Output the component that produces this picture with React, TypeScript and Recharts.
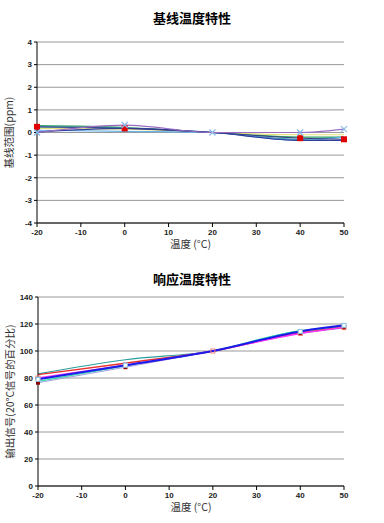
import { CartesianGrid, Line, LineChart, XAxis, YAxis } from "recharts";

const temps = [-20, 0, 20, 40, 50];
const xTicks = [-20, -10, 0, 10, 20, 30, 40, 50];

// 基线温度特性 (ppm)
const baseTicks = [-4, -3, -2, -1, 0, 1, 2, 3, 4];
const basePurple = [0, 0.33, 0, 0, 0.15];
const baseRed = [0.25, 0.18, 0, -0.25, -0.3];
const baseGreen = [0.3, 0.22, 0, -0.2, -0.2];
const baseYellow = [0.18, 0.15, 0, -0.1, -0.1];
const baseTeal = [0.25, 0.2, 0, -0.3, -0.2];
const baseLightBlue = [0.1, 0.05, 0, -0.35, -0.2];
const baseBlue = [0.02, 0.18, 0, -0.35, -0.35];

// 响应温度特性 (%)
const respTicks = [0, 20, 40, 60, 80, 100, 120, 140];
const respTeal = [83, 93.5, 100, 115, 118];
const respRed = [82.5, 91, 100, 113.5, 117.5];
const respMagenta = [80, 89.5, 100, 113, 117.5];
const respCyan = [77.5, 89, 100, 115, 117];
const respBlue = [79, 89.5, 100, 114.5, 119];
const respDark = [76.5, 88, 100, 113, 117];

const baseSeries = [
  { key: "yellow", values: baseYellow, color: "#e6e07a", width: 1.2, dot: "none" },
  { key: "green", values: baseGreen, color: "#2ea060", width: 1.2, dot: "none" },
  { key: "teal", values: baseTeal, color: "#2a9a9a", width: 1.2, dot: "none" },
  { key: "lightblue", values: baseLightBlue, color: "#6ab4e8", width: 1.2, dot: "none" },
  { key: "blue", values: baseBlue, color: "#2f3f9e", width: 1.2, dot: "none" },
  { key: "red", values: baseRed, color: "#3a3a8a", width: 1, dot: "square" },
  { key: "purple", values: basePurple, color: "#9a6cc4", width: 1.2, dot: "x" },
];

const respSeries = [
  { key: "teal", values: respTeal, color: "#2a9d9d", width: 1.2, dot: "none" },
  { key: "cyan", values: respCyan, color: "#33e0b0", width: 1.2, dot: "none" },
  { key: "dark", values: respDark, color: "#a0a0e0", width: 1, dot: "darkred" },
  { key: "red", values: respRed, color: "#e83030", width: 1.5, dot: "none" },
  { key: "magenta", values: respMagenta, color: "#ff33ff", width: 1.5, dot: "pink" },
  { key: "blue", values: respBlue, color: "#1c1ce8", width: 2, dot: "white" },
];

function buildRows(series: { key: string; values: number[] }[]) {
  return temps.map((t, i) => {
    const row: Record<string, number> = { t };
    series.forEach((s) => {
      row[s.key] = s.values[i];
    });
    return row;
  });
}

const baseData = buildRows(baseSeries);
const respData = buildRows(respSeries);

function Marker(props: any) {
  const { cx, cy, kind, payload } = props;
  if (cx == null || cy == null) return null;
  if (kind === "x") {
    return (
      <g stroke="#8ab8e8" strokeWidth={1.2}>
        <line x1={cx - 3} y1={cy - 3} x2={cx + 3} y2={cy + 3} />
        <line x1={cx - 3} y1={cy + 3} x2={cx + 3} y2={cy - 3} />
      </g>
    );
  }
  if (kind === "square") {
    if (payload?.t === 20) return null;
    return <rect x={cx - 3} y={cy - 3} width={6} height={6} fill="#e00000" />;
  }
  if (kind === "darkred") {
    if (payload?.t === 20) return null;
    return <rect x={cx - 2} y={cy - 2} width={4} height={4} fill="#8b0000" />;
  }
  if (kind === "pink") {
    return <rect x={cx - 2} y={cy - 2} width={4} height={4} fill="none" stroke="#f08080" />;
  }
  if (kind === "white") {
    if (payload?.t === 20) return null;
    return <rect x={cx - 2} y={cy - 2} width={4} height={4} fill="#ffffff" stroke="#80c0e0" />;
  }
  return null;
}

const tickStyle = { fontSize: 8, fontWeight: 700, fill: "#222", fontFamily: "Liberation Sans, Arial, sans-serif" };
const titleStyle: React.CSSProperties = {
  position: "absolute",
  left: 0,
  width: 384,
  textAlign: "center",
  fontFamily: "Noto Sans CJK SC, sans-serif",
  fontWeight: 700,
  fontSize: 13,
  color: "#000",
};
const axisTitleFont = "Noto Sans CJK SC, Liberation Sans, sans-serif";

function TempChart({
  data,
  series,
  yTicks,
  yLabel,
  height,
  marginTop,
  marginLeft,
}: {
  data: Record<string, number>[];
  series: typeof baseSeries;
  yTicks: number[];
  yLabel: string;
  height: number;
  marginTop: number;
  marginLeft: number;
}) {
  return (
    <LineChart
      width={384}
      height={height}
      data={data}
      margin={{ top: marginTop, right: 40, bottom: 12, left: marginLeft }}
    >
      <CartesianGrid vertical={false} stroke="#999" />
      <XAxis
        type="number"
        dataKey="t"
        domain={[-20, 50]}
        ticks={xTicks}
        interval={0}
        tick={tickStyle}
        tickSize={4}
        stroke="#000"
        height={25}
        label={{
          value: "温度 (°C)",
          position: "insideBottom",
          offset: 0,
          style: { fontSize: 10.5, fill: "#333", fontFamily: axisTitleFont },
        }}
      />
      <YAxis
        type="number"
        domain={[yTicks[0], yTicks[yTicks.length - 1]]}
        ticks={yTicks}
        interval={0}
        tick={tickStyle}
        tickSize={3}
        stroke="#000"
        width={30}
        label={{
          value: yLabel,
          angle: -90,
          position: "insideLeft",
          offset: 2,
          style: { fontSize: 10.5, fill: "#333", fontFamily: axisTitleFont, textAnchor: "middle" },
        }}
      />
      <YAxis
        yAxisId="right"
        orientation="right"
        width={0}
        tick={false}
        tickLine={false}
        stroke="#999"
      />
      {series.map((s) => (
        <Line
          key={s.key}
          type="monotone"
          dataKey={s.key}
          stroke={s.color}
          strokeWidth={s.width}
          dot={s.dot === "none" ? false : (p: any) => <Marker key={`${s.key}-${p.index}`} {...p} kind={s.dot} />}
          activeDot={false}
          isAnimationActive={false}
        />
      ))}
    </LineChart>
  );
}

export default function App() {
  return (
    <div style={{ position: "absolute", left: 0, top: 0, width: 384, height: 523, background: "#fff" }}>
      <div style={{ ...titleStyle, top: 8 }}>基线温度特性</div>
      <div style={{ position: "absolute", left: 0, top: 0 }}>
        <TempChart
          data={baseData}
          series={baseSeries}
          yTicks={baseTicks}
          yLabel="基线范围(ppm)"
          height={260}
          marginTop={42}
          marginLeft={7}
        />
      </div>
      <div style={{ ...titleStyle, top: 269 }}>响应温度特性</div>
      <div style={{ position: "absolute", left: 0, top: 260 }}>
        <TempChart
          data={respData}
          series={respSeries}
          yTicks={respTicks}
          yLabel="输出信号(20°C信号的百分比)"
          height={263}
          marginTop={37}
          marginLeft={8}
        />
      </div>
    </div>
  );
}
